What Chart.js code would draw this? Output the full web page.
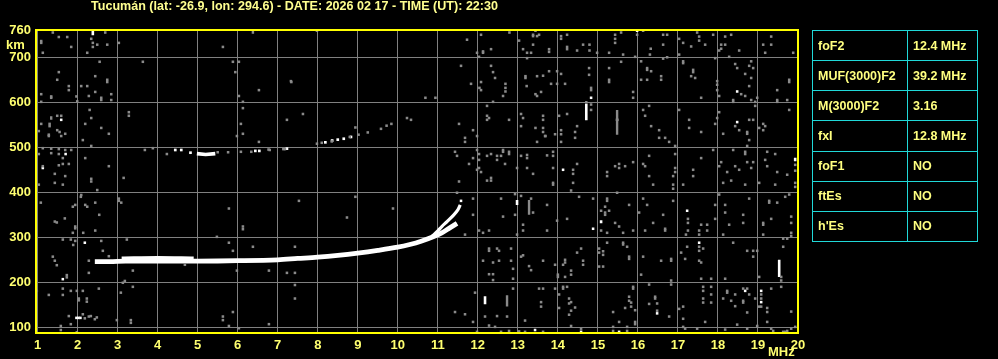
<!DOCTYPE html>
<html><head><meta charset="utf-8">
<script src="https://cdn.jsdelivr.net/npm/chart.js@4.4.1/dist/chart.umd.min.js"></script>
<style>
html,body{margin:0;padding:0;background:#000;}
#wrap{position:relative;width:998px;height:359px;overflow:hidden;}
#tbl{position:absolute;left:812px;top:30px;width:166px;height:212px;border-collapse:collapse;font:bold 12.5px "Liberation Sans",Arial,sans-serif;color:#ffff80;}
#tbl td{border:1px solid #20d8d8;height:30px;padding:0 0 0 5px;box-sizing:border-box;white-space:nowrap;}
#tbl td.l{width:95px;}
</style></head>
<body><div id="wrap"><canvas id="c" width="998" height="359"></canvas><table id="tbl"></table></div>
<script>
const titleText = "Tucumán (lat: -26.9, lon: 294.6) - DATE: 2026 02 17 - TIME (UT): 22:30";
const freqTicks = [1,2,3,4,5,6,7,8,9,10,11,12,13,14,15,16,17,18,19,20];
const heightTicks = [100,200,300,400,500,600,700,760];
const tableLabels = ["foF2","MUF(3000)F2","M(3000)F2","fxI","foF1","ftEs","h'Es"];
const tableValues = ["12.4 MHz","39.2 MHz","3.16","12.8 MHz","NO","NO","NO"];

// F-layer trace (MHz, km)
const traceF = [2.43,2.8,3.2,4.0,5.0,6.0,7.0,7.5,8.0,8.5,9.0,9.5,10.0,10.3,10.6,10.9,11.1,11.3,11.48];
const traceH = [246,246,247,247,247,248,250,253,256,260,265,271,278,284,292,302,310,321,331];
const branchF = [10.85,11.0,11.1,11.23,11.4,11.5,11.56];
const branchH = [302,314,324,335,350,361,372];
const edgeF = [3.1,4.0,4.9];
const edgeH = [254,255,254];
// second hop echo
const blobF = [4.98,5.2,5.44];
const blobH = [486,484,486];
const hopGray = [[5.5,489],[5.76,489],[6.08,490],[6.77,495],[7.14,496],[7.98,508],[8.35,513],[8.8,523],[8.94,544],[9.02,528],[9.25,533],[9.58,541],[9.72,548],[9.84,552],[8.1,510],[3.88,498],[3.68,494],[4.23,485],[6.34,490],[6.80,494],[7.18,496]];
const hopWhite = [[4.44,494],[4.59,494],[4.82,488],[6.44,492],[6.54,492],[7.23,497],[8.19,511],[8.36,515],[8.5,517],[8.65,519],[8.83,523]];
// vertical streaks [MHz, km from, km to]
const streakWhite = [[2.38,749,761],[14.71,560,597],[19.53,212,250],[12.98,372,383],[15.08,331,338],[19.93,469,477],[12.18,151,169]];
const streakGray = [[15.48,528,583],[12.73,146,171],[13.28,350,383],[1.34,561,569],[14.71,597,603],[6.38,752,759]];
const noiseWhite = [[1.59,561],[1.70,485],[1.13,454],[18.48,624],[18.48,556],[14.83,610],[14.13,450],[15.98,759],[15.48,561],[2.18,288],[1.63,207],[1.97,121],[2.02,121],[2.07,121],[11.58,381],[13.43,94],[14.88,319],[17.23,359],[17.53,288],[14.58,90],[15.53,90],[16.48,131],[18.68,181],[19.08,181],[19.08,156]];
const noiseGray = [
[1.38,755],[1.53,745],[1.74,745],[1.09,736],[1.09,732],[1.84,723],[1.13,710],[2.34,741],[2.38,732],[2.49,728],[2.74,728],[2.38,723],[2.24,710],[2.69,755],[3.03,732],[2.55,690],[3.63,690],[1.53,667],[1.49,650],[1.78,636],[1.78,627],[2.09,636],[2.24,636],[2.44,658],[2.74,650],[2.74,645],[1.09,618],[1.34,613],[1.34,610],[2.28,614],[2.44,623],[2.59,610],[2.59,605],[2.84,618],[2.84,605],[1.97,613],[1.09,601],[1.99,602],[2.30,583],[3.28,578],[3.28,570],[1.49,570],[1.59,570],[2.34,565],[1.09,552],[1.30,552],[1.30,547],[2.19,552],[2.59,543],[1.03,536],[1.49,538],[1.55,534],[1.69,530],[1.59,525],[1.28,528],[1.28,525],[2.78,530],[2.13,516],[2.34,503],[1.13,498],[1.34,497],[1.53,496],[1.69,494],[1.84,494],[1.34,487],[1.53,485],[1.63,476],[2.19,476],[1.13,458],[1.53,460],[1.63,463],[1.78,463],[2.78,458],[1.43,441],[1.69,436],[2.34,430],[3.15,432],[1.03,485],[5.63,723],[5.88,690],[6.03,690],[5.94,667],[6.53,627],[6.03,614],[6.13,601],[6.13,587],[7.34,645],[6.08,552],[6.13,530],[5.98,525],[6.53,512],[7.23,561],
[7.98,759],[7.33,647],[7.63,574],[10.23,565],[10.33,561],[10.69,610],[10.94,610],[11.73,739],[12.08,750],[11.98,710],[12.13,713],[12.13,710],[12.33,718],[12.03,701],[12.79,755],[13.03,737],[13.13,718],[13.23,710],[13.33,710],[13.23,698],[13.38,750],[13.38,747],[13.48,747],[13.53,750],[13.44,759],[13.38,728],[11.58,681],[12.33,681],[12.38,667],[12.43,654],[12.08,645],[11.83,641],[12.04,632],[12.08,627],[12.69,641],[12.69,632],[12.69,624],[12.63,614],[12.38,601],[13.19,658],[13.19,654],[13.48,658],[13.63,659],[13.22,636],[13.44,618],[13.48,614],[13.58,623],[12.23,592],[12.23,570],[12.28,565],[12.23,561],[12.78,561],[11.53,552],[11.88,538],[11.68,521],[11.68,512],[11.98,525],[13.08,574],[13.13,565],[13.08,547],[13.44,543],[13.63,570],[13.63,561],[13.63,543],[13.63,534],[13.48,512],[13.69,525],[11.98,494],[11.43,490],[11.48,481],[12.03,485],[11.88,476],[11.78,463],[12.03,472],[12.23,481],[12.33,485],[12.48,481],[12.48,472],[12.58,481],[12.63,494],[12.63,490],[12.78,490],[12.78,485],[12.68,463],[12.03,454],[11.98,450],[12.08,445],[12.33,432],[13.08,481],[13.23,483],[13.23,476],[13.23,454],[13.38,441],[12.98,454],
[13.78,718],[13.78,712],[14.08,747],[14.08,741],[14.23,750],[14.23,723],[14.23,718],[14.48,715],[14.63,728],[14.79,728],[14.79,715],[14.98,710],[15.28,710],[15.43,750],[15.43,741],[15.43,732],[15.58,755],[15.63,706],[15.93,701],[15.98,750],[16.13,759],[16.32,719],[16.30,706],[16.63,750],[16.73,750],[16.63,728],[16.63,697],[16.73,700],[17.03,741],[17.03,706],[17.13,732],[17.33,724],[17.48,755],[17.53,746],[17.53,737],[17.68,728],[17.88,750],[17.93,698],[18.03,715],[18.08,728],[18.08,719],[18.18,728],[18.18,746],[18.33,750],[18.28,701],[18.53,715],[19.13,728],[19.33,746],[19.33,728],[19.18,710],[19.88,710],[13.78,669],[13.98,669],[14.08,663],[13.83,641],[13.98,641],[14.18,641],[14.78,676],[14.78,661],[14.83,632],[14.83,627],[15.28,676],[15.28,650],[15.28,645],[15.58,690],[15.88,623],[15.88,610],[16.08,691],[16.08,650],[16.23,676],[16.23,672],[16.33,669],[16.23,650],[16.58,658],[16.58,650],[17.13,691],[17.13,687],[17.38,672],[17.38,667],[17.33,658],[17.43,654],[17.58,610],[17.98,647],[17.98,639],[17.98,627],[18.03,614],[18.43,685],[18.48,676],[18.78,681],[18.83,691],[18.88,676],[18.68,663],[18.83,654],[18.78,636],[18.58,618],[18.68,614],[18.38,605],[18.38,601],[18.83,605],[18.93,601],[18.93,592],[18.98,610],[19.48,627],[19.48,605],[19.48,601],[19.73,605],[19.78,650],[19.78,645],[19.78,583],
[14.83,595],[14.83,583],[14.03,570],[14.23,574],[14.48,547],[14.08,538],[14.08,529],[14.08,512],[13.93,529],[14.43,534],[14.43,521],[13.68,525],[16.13,583],[16.18,570],[16.28,592],[16.33,547],[16.53,538],[16.53,521],[16.68,521],[16.78,512],[16.93,503],[16.93,485],[17.03,583],[17.28,561],[17.28,543],[17.58,534],[17.93,552],[18.03,578],[17.98,565],[18.13,530],[18.43,547],[18.53,538],[18.73,534],[18.73,530],[18.78,516],[18.73,503],[19.13,552],[19.18,547],[19.03,543],[19.13,538],[18.78,561],[18.88,561],[18.38,494],[18.68,490],[18.68,485],[19.23,490],[19.43,485],[19.18,472],[13.88,490],[13.88,481],[13.73,482],[13.88,454],[14.38,450],[14.38,441],[14.48,463],[15.23,445],[15.23,436],[15.43,458],[15.53,463],[15.53,454],[15.68,458],[15.88,467],[16.13,463],[16.18,458],[16.28,481],[16.28,436],[16.93,454],[16.93,445],[16.88,436],[17.38,450],[17.38,436],[17.58,476],[17.88,494],[18.03,458],[18.08,467],[18.23,445],[18.43,458],[18.53,450],[18.73,467],[18.83,454],[18.88,467],[19.23,458],[19.48,445],[19.73,439],[19.93,461],[19.93,448],
[1.03,417],[1.43,421],[1.63,417],[2.34,424],[2.49,405],[1.08,377],[2.09,394],[2.08,390],[1.88,368],[1.94,372],[2.19,372],[2.24,368],[2.44,377],[2.54,350],[3.03,386],[3.03,381],[3.09,377],[1.43,335],[1.48,333],[1.68,342],[1.94,324],[1.94,320],[1.88,310],[2.14,310],[2.44,315],[1.63,295],[1.83,295],[1.94,292],[1.89,283],[2.59,292],[3.23,295],[2.63,270],[1.38,257],[1.43,248],[1.48,238],[2.28,248],[2.78,258],[2.28,221],[1.73,216],[1.73,211],[3.38,226],[3.18,203],[3.13,199],[3.38,190],[2.53,186],[1.63,186],[1.83,181],[1.98,181],[2.13,181],[1.63,172],[1.28,172],[0.98,181],[2.03,164],[2.03,160],[2.23,164],[2.23,157],[3.08,177],[1.78,125],[1.83,107],[2.13,129],[2.18,120],[2.28,124],[2.33,125],[2.48,122],[2.43,118],[1.58,103],[1.58,94],[1.98,89],[2.98,116],[3.33,116],[3.33,110],[5.78,364],[6.13,324],[6.13,318],[5.48,301],[5.78,288],[5.88,270],[6.38,279],[5.98,226],[6.78,226],[7.23,221],[4.68,239],[5.88,134],[5.63,124],[5.63,116],[5.78,103],[6.03,98],[6.78,107],
[7.53,381],[8.94,390],[9.88,364],[8.73,344],[7.43,279],[7.43,221],[7.43,194],[7.43,164],[11.48,399],[11.53,424],[11.88,386],[11.88,350],[11.68,306],[12.03,315],[12.13,310],[12.28,315],[12.58,386],[12.63,346],[12.93,396],[13.08,392],[13.33,386],[13.38,355],[12.93,350],[13.13,328],[13.13,315],[12.98,306],[12.28,275],[12.28,270],[12.48,275],[12.53,270],[12.83,275],[12.13,248],[12.38,244],[12.53,248],[12.83,248],[13.13,260],[13.08,257],[13.63,248],[13.28,236],[13.33,227],[12.88,230],[12.28,218],[12.38,218],[12.38,205],[12.88,208],[13.53,186],[13.63,186],[12.88,186],[11.93,177],[13.58,156],[13.58,146],[11.43,134],[11.68,129],[11.88,112],[12.18,124],[12.48,125],[12.73,124],[12.28,104],[12.43,101],[13.18,115],[12.58,90],[12.78,92],[13.03,91],[13.18,90],[13.63,90],[11.98,90],[12.23,426],[12.33,426],
[13.88,421],[13.88,417],[14.38,421],[14.33,404],[14.53,390],[14.88,386],[15.48,399],[15.78,372],[15.23,386],[15.23,381],[15.18,368],[15.08,359],[15.28,359],[15.18,355],[15.18,350],[15.08,315],[15.43,332],[15.53,324],[15.63,310],[15.88,315],[15.23,310],[13.73,372],[13.73,315],[13.98,337],[14.23,341],[16.38,417],[16.13,386],[16.23,372],[16.03,355],[16.88,417],[16.88,408],[16.88,381],[16.63,350],[16.38,332],[16.18,315],[16.68,319],[16.68,315],[17.13,417],[17.25,341],[17.25,332],[17.2,306],[17.25,315],[17.58,328],[17.73,328],[17.53,315],[17.73,315],[17.53,306],[17.93,372],[17.93,341],[18.03,395],[18.13,421],[18.18,372],[18.18,355],[18.28,328],[18.33,426],[18.68,417],[18.63,350],[18.63,332],[18.13,306],[18.78,386],[19.03,421],[19.43,417],[19.28,381],[19.28,377],[19.48,377],[19.78,395],[19.68,390],[19.33,341],[19.13,332],[19.13,328],[19.13,306],[19.83,346],[19.83,332],[19.83,310],[19.83,303],[19.93,421],[19.93,412],
[14.58,275],[14.48,266],[14.18,250],[14.18,244],[14.13,239],[13.93,239],[14.33,226],[14.33,217],[14.63,248],[14.63,239],[14.0,217],[14.0,212],[14.18,212],[15.03,275],[15.03,266],[15.13,269],[15.13,261],[15.23,288],[15.03,235],[15.13,235],[15.63,288],[15.63,284],[15.73,279],[15.78,257],[15.78,252],[16.13,257],[16.08,217],[16.58,248],[16.83,252],[16.83,248],[17.08,266],[17.18,252],[17.23,279],[17.53,279],[17.53,270],[17.63,275],[17.53,248],[17.58,244],[17.58,208],[17.83,208],[18.18,208],[18.38,288],[18.73,270],[18.88,270],[18.98,270],[18.88,257],[19.03,212],[19.63,279],[19.63,297],[19.73,297],[19.58,212],[19.58,204],[19.58,190],
[13.93,186],[14.03,173],[14.13,190],[14.13,186],[14.23,190],[14.28,164],[14.28,153],[14.33,156],[14.33,137],[14.43,144],[14.28,128],[14.03,143],[14.33,103],[14.58,97],[15.38,134],[15.38,101],[15.38,92],[15.53,112],[15.68,143],[15.78,168],[15.78,159],[15.83,155],[15.83,146],[15.88,190],[15.88,186],[15.93,138],[15.93,112],[15.93,107],[15.73,101],[15.73,92],[16.28,195],[16.28,152],[16.43,168],[16.43,164],[16.48,153],[16.48,137],[16.83,204],[16.83,195],[16.78,124],[17.03,141],[17.13,146],[17.13,119],[17.13,101],[17.18,97],[17.48,97],[17.68,112],[17.63,190],[17.63,181],[17.83,190],[17.63,164],[17.63,155],[17.83,173],[17.83,155],[18.23,181],[18.23,177],[18.13,164],[18.43,173],[18.33,159],[18.43,147],[18.63,186],[18.73,186],[18.78,173],[18.63,159],[18.63,155],[18.93,164],[19.03,146],[18.73,133],[19.08,173],[19.08,164],[19.08,146],[19.23,143],[19.23,134],[19.33,186],[19.23,112],[19.83,135],[18.48,106],[18.18,95],[18.73,97],[18.98,103],[19.33,97],[19.38,92],[19.73,92],[19.83,97],[19.93,101],[19.63,90],[19.68,90]
];

// ---- table (HTML text) ----
const tbl = document.getElementById('tbl');
tableLabels.forEach((l,i)=>{
  const tr = document.createElement('tr');
  const a = document.createElement('td'); a.className='l'; a.textContent=l;
  const b = document.createElement('td'); b.textContent=tableValues[i];
  tr.appendChild(a); tr.appendChild(b); tbl.appendChild(tr);
});

const FONT = '"Liberation Sans", Arial, sans-serif';
const pts = a => a.map(p=>({x:p[0],y:p[1]}));
const zip = (fs,hs) => fs.map((f,i)=>({x:f,y:hs[i]}));
const segs = a => { const o=[]; a.forEach(s=>{o.push({x:s[0],y:s[1]},{x:s[0],y:s[2]},{x:s[0],y:null});}); return o; };
const dot = (data,color,r)=>({data:pts(data),pointStyle:'rect',pointRadius:r,pointHoverRadius:r,backgroundColor:color,borderWidth:0,showLine:false});
const line = (data,color,w,t)=>({data,showLine:true,borderColor:color,borderWidth:w,pointRadius:0,pointHoverRadius:0,tension:(t===undefined?0.35:t),fill:false,spanGaps:false,borderCapStyle:'butt'});

const frame = {
  id:'frame',
  afterDraw(chart){
    const {ctx, chartArea:a} = chart;
    ctx.save();
    ctx.strokeStyle='#ffff00'; ctx.lineWidth=2;
    ctx.strokeRect(a.left, a.top, a.right-a.left, a.bottom-a.top);
    ctx.fillStyle='#ffff70';
    ctx.font='bold 13px '+FONT; ctx.textBaseline='middle'; ctx.textAlign='left';
    ctx.fillText('km', 6, 45);
    ctx.fillText('MHz', 768, 352);
    ctx.fillStyle='#ffff90';
    ctx.font='bold 12px '+FONT;
    const w = ctx.measureText(titleText).width;
    ctx.translate(91, 7); ctx.scale(407/w, 1);
    ctx.fillText(titleText, 0, 0);
    ctx.restore();
  }
};

new Chart(document.getElementById('c'), {
  type:'scatter',
  data:{datasets:[
    dot(noiseGray,'#8a8a8a',1.8),
    line(segs(streakGray),'#8a8a8a',2.4,0),
    dot(hopGray,'#8a8a8a',1.8),
    dot(noiseWhite,'#ffffff',1.8),
    line(segs(streakWhite),'#ffffff',2.6,0),
    dot(hopWhite,'#ffffff',1.9),
    line(zip(blobF,blobH),'#ffffff',3.6,0),
    line(zip(edgeF,edgeH),'#ffffff',3),
    line(zip(traceF,traceH),'#ffffff',4.8),
    line(zip(branchF,branchH),'#ffffff',3.2)
  ]},
  options:{
    responsive:false, animation:false, devicePixelRatio:1,
    layout:{padding:{top:30,right:200,left:0,bottom:0}},
    plugins:{legend:{display:false},tooltip:{enabled:false},title:{display:false}},
    scales:{
      x:{type:'linear',min:0.96,max:20,
        afterBuildTicks:s=>{s.ticks=freqTicks.map(v=>({value:v}));},
        afterFit:s=>{s.height=26;},
        ticks:{color:'#ffff70',font:{family:FONT,size:13,weight:'bold'},padding:5,autoSkip:false,maxRotation:0,callback:v=>String(v)},
        grid:{color:'#808080',lineWidth:1,drawTicks:false},border:{display:false}},
      y:{type:'linear',min:87.4,max:760.6,
        afterBuildTicks:s=>{s.ticks=heightTicks.map(v=>({value:v}));},
        afterFit:s=>{s.width=36;},
        ticks:{color:'#ffff70',font:{family:FONT,size:13,weight:'bold'},padding:5,callback:v=>String(v)},
        grid:{color:c=>(c.tick&&c.tick.value===760)?'rgba(0,0,0,0)':'#808080',lineWidth:1,drawTicks:false},border:{display:false}}
    }
  },
  plugins:[frame]
});
</script></body></html>
